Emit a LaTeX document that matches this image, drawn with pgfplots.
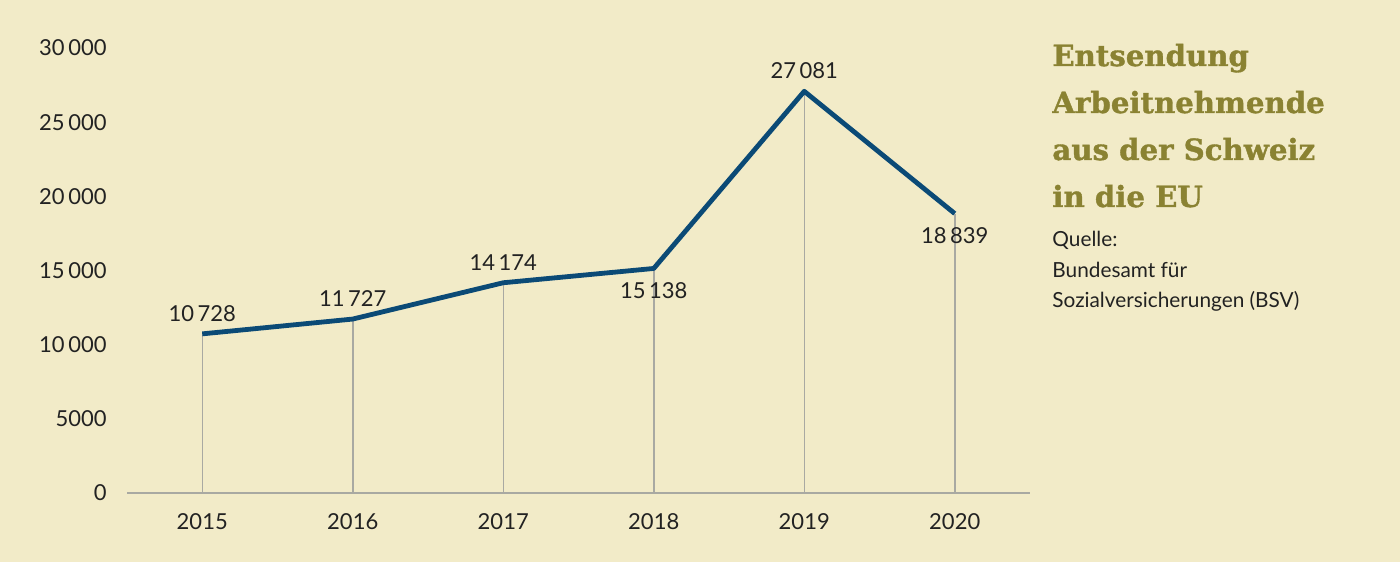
\documentclass[border=0pt]{standalone}
\usepackage{pgfplots}
\pgfplotsset{compat=1.18}
\usepackage{fontspec}
\setmainfont{Lato}
\newfontfamily\titlefont{DejaVu Serif}[UprightFont=* Bold, FakeBold=1.2]
\definecolor{bg}{HTML}{F2EBC8}
\definecolor{olive}{HTML}{8A8232}
\definecolor{navy}{HTML}{0B4A76}
\definecolor{vgray}{HTML}{A9A9A2}
\definecolor{txt}{HTML}{222222}
\begin{document}
\begin{tikzpicture}
\useasboundingbox (0,0) rectangle (700pt,281pt);
\fill[bg] (0,0) rectangle (700pt,281pt);
\begin{axis}[
  at={(63.5pt,34.5pt)}, anchor=south west,
  scale only axis, width=451.5pt, height=222.5pt,
  xmin=-0.5, xmax=5.5, ymin=0, ymax=30000,
  clip=false,
  scaled y ticks=false,
  axis lines=left,
  x axis line style={vgray, line width=0.75pt, -},
  y axis line style={draw=none},
  tick style={draw=none},
  major tick length=0pt,
  xtick={0,1,2,3,4,5},
  xticklabels={2015,2016,2017,2018,2019,2020},
  ytick={0,5000,10000,15000,20000,25000,30000},
  yticklabels={0,5000,10\,000,15\,000,20\,000,25\,000,30\,000},
  every tick label/.append style={font=\fontsize{11}{13}\selectfont, text=txt},
  xticklabel style={anchor=north, inner sep=0pt, yshift=-10pt},
  yticklabel style={anchor=east, inner sep=0pt, xshift=-10pt},
]
\addplot[ycomb, vgray, line width=0.75pt, mark=none] coordinates {
 (0,10728) (1,11727) (2,14174) (3,15138) (4,27081) (5,18839)};
\addplot[navy, line width=2.4pt, mark=none, line join=round] coordinates {
 (0,10728) (1,11727) (2,14174) (3,15138) (4,27081) (5,18839)};
\addplot[draw=none, mark=none, point meta=explicit symbolic,
  nodes near coords,
  every node near coord/.style={anchor=south, inner sep=0pt, yshift=6pt, text=txt, font=\fontsize{11}{13}\selectfont}]
 coordinates {(0,10728) [10\,728] (1,11727) [11\,727] (2,14174) [14\,174] (4,27081) [27\,081]};
\addplot[draw=none, mark=none, point meta=explicit symbolic,
  nodes near coords,
  every node near coord/.style={anchor=north, inner sep=0pt, yshift=-7pt, text=txt, font=\fontsize{11}{13}\selectfont}]
 coordinates {(3,15138) [15\,138] (5,18839) [18\,839]};
\end{axis}
\begin{scope}[every node/.style={anchor=base west, inner sep=0pt, text=olive, font=\titlefont\fontsize{14.6}{17}\selectfont}]
\node at (526pt,248pt) {Entsendung};
\node at (526pt,224.5pt) {Arbeitnehmende};
\node at (526pt,201pt) {aus der Schweiz};
\node at (526pt,177.5pt) {in die EU};
\end{scope}
\begin{scope}[every node/.style={anchor=base west, inner sep=0pt, text=txt, font=\fontsize{10.4}{12}\selectfont}]
\node at (526pt,157.7pt) {Quelle:};
\node at (526pt,142pt) {Bundesamt für};
\node at (526pt,127pt) {Sozialversicherungen (BSV)};
\end{scope}
\end{tikzpicture}
\end{document}
